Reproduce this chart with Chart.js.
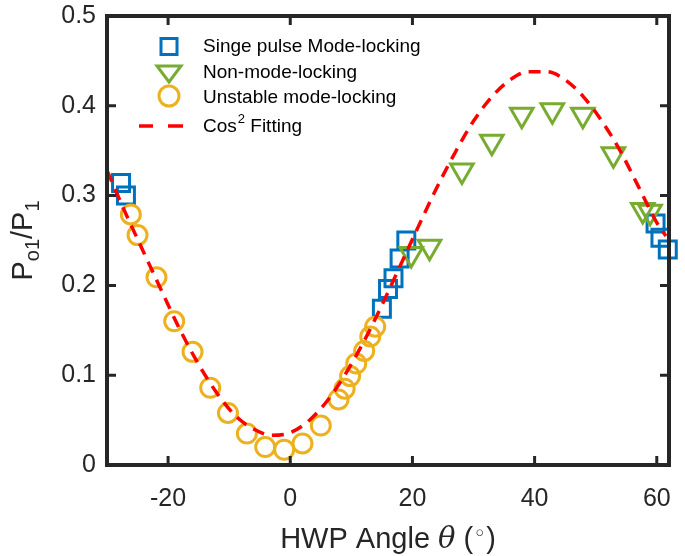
<!DOCTYPE html>
<html>
<head>
<meta charset="utf-8">
<script src="https://cdn.jsdelivr.net/npm/chart.js@4.4.1/dist/chart.umd.min.js"></script>
<style>
  html, body { margin: 0; padding: 0; background: #fff; }
  #wrap { width: 685px; height: 556px; }
</style>
</head>
<body>
<div id="wrap"><canvas id="chart" width="685" height="556"></canvas></div>
<script>
// valores
const fitAngle = [-30, -27, -24, -21, -18, -15, -12, -9, -6, -3, 0, 3, 6, 9, 12, 15, 18, 21, 24, 27, 30, 33, 36, 39, 42, 45, 48, 51, 54, 57, 60, 61.5];
const fitValue = [0.328, 0.281, 0.237, 0.193, 0.150, 0.112, 0.080, 0.055, 0.040, 0.033, 0.036, 0.049, 0.071, 0.101, 0.137, 0.178, 0.222, 0.266, 0.309, 0.348, 0.383, 0.410, 0.429, 0.438, 0.438, 0.429, 0.410, 0.383, 0.350, 0.310, 0.270, 0.255];

const singleAngle = [-27.7, -26.9, 15.0, 16.0, 16.9, 17.9, 19.0, 59.8, 60.6, 61.8];
const singleValue = [0.314, 0.300, 0.174, 0.196, 0.208, 0.230, 0.250, 0.269, 0.253, 0.240];

const nonAngle = [19.8, 22.8, 28.1, 33.0, 37.9, 42.9, 47.9, 52.9, 57.7, 58.9];
const nonValue = [0.235, 0.243, 0.328, 0.360, 0.390, 0.395, 0.390, 0.346, 0.284, 0.282];

const unstableAngle = [-26.1, -25.0, -21.9, -19.0, -16.0, -13.1, -10.2, -7.1, -4.1, -1.0, 2.0, 5.0, 7.9, 8.9, 9.8, 10.8, 12.1, 13.1, 13.9];
const unstableValue = [0.279, 0.256, 0.209, 0.160, 0.126, 0.086, 0.058, 0.035, 0.020, 0.017, 0.024, 0.044, 0.073, 0.085, 0.099, 0.113, 0.127, 0.143, 0.154];

const xTicks = [-20, 0, 20, 40, 60];
const yTicks = [0, 0.1, 0.2, 0.3, 0.4, 0.5];

const legendLabels = ['Singe pulse Mode-locking', 'Non-mode-locking', 'Unstable mode-locking', 'Cos', '2', ' Fitting'];

const AZUL = '#0072BD';
const VERDE = '#77AC30';
const LARANJA = '#EDB120';
const VERMELHO = '#FF0000';
const EIXO = '#262626';
const FONTE = '"Liberation Sans", Arial, Helvetica, sans-serif';

const pares = (xs, ys) => xs.map((x, i) => ({ x: x, y: ys[i] }));

// caixa dos eixos, ticks para dentro, títulos e legenda
const moldura = {
    id: 'moldura',
    afterDatasetsDraw(chart) {
        const { ctx, chartArea: a, scales } = chart;
        const tl = 9;
        ctx.save();
        ctx.strokeStyle = EIXO;
        ctx.lineWidth = 4;
        ctx.lineCap = 'square';
        ctx.strokeRect(a.left, a.top, a.right - a.left, a.bottom - a.top);
        ctx.lineWidth = 3;
        ctx.lineCap = 'butt';
        ctx.beginPath();
        xTicks.forEach(v => {
            const px = scales.x.getPixelForValue(v);
            ctx.moveTo(px, a.bottom); ctx.lineTo(px, a.bottom - tl);
            ctx.moveTo(px, a.top); ctx.lineTo(px, a.top + tl);
        });
        yTicks.forEach(v => {
            const py = scales.y.getPixelForValue(v);
            ctx.moveTo(a.left, py); ctx.lineTo(a.left + tl, py);
            ctx.moveTo(a.right, py); ctx.lineTo(a.right - tl, py);
        });
        ctx.stroke();

        // legenda
        const lx = 169, tx = 203;
        const linhas = [47, 73, 98, 126];
        ctx.lineWidth = 3;
        ctx.strokeStyle = AZUL;
        ctx.strokeRect(lx - 8, linhas[0] - 8.5, 16, 16);
        ctx.strokeStyle = VERDE;
        ctx.beginPath();
        ctx.moveTo(lx - 12, linhas[1] - 7);
        ctx.lineTo(lx + 12, linhas[1] - 7);
        ctx.lineTo(lx, linhas[1] + 9);
        ctx.closePath();
        ctx.stroke();
        ctx.strokeStyle = LARANJA;
        ctx.beginPath();
        ctx.arc(lx, linhas[2] - 2, 10, 0, Math.PI * 2);
        ctx.stroke();
        ctx.strokeStyle = VERMELHO;
        ctx.lineWidth = 3.5;
        ctx.beginPath();
        ctx.moveTo(139, linhas[3]); ctx.lineTo(153, linhas[3]);
        ctx.moveTo(168, linhas[3]); ctx.lineTo(183, linhas[3]);
        ctx.stroke();

        ctx.fillStyle = '#000';
        ctx.textBaseline = 'middle';
        ctx.textAlign = 'left';
        ctx.font = '19px ' + FONTE;
        ctx.fillText(legendLabels[0], tx, linhas[0]);
        ctx.fillText(legendLabels[1], tx, linhas[1]);
        ctx.fillText(legendLabels[2], tx, linhas[2]);
        let cx = tx;
        ctx.fillText(legendLabels[3], cx, linhas[3] + 1);
        cx += ctx.measureText(legendLabels[3]).width + 1;
        ctx.font = '13px ' + FONTE;
        ctx.fillText(legendLabels[4], cx, linhas[3] - 7);
        cx += ctx.measureText(legendLabels[4]).width;
        ctx.font = '19px ' + FONTE;
        ctx.fillText(legendLabels[5], cx, linhas[3] + 1);

        // título do eixo x
        ctx.fillStyle = EIXO;
        ctx.textBaseline = 'alphabetic';
        const partesX = [
            ['HWP Angle ', '29px ' + FONTE, 0],
            ['\u03B8', 'italic 29px "DejaVu Serif", serif', 0],
            [' (', '29px ' + FONTE, 0],
            ['\u25E6', '22px "DejaVu Sans", sans-serif', -7],
            [')', '29px ' + FONTE, 0]
        ];
        let largura = 0;
        partesX.forEach(p => { ctx.font = p[1]; largura += ctx.measureText(p[0]).width; });
        let px = (a.left + a.right) / 2 - largura / 2;
        partesX.forEach(p => {
            ctx.font = p[1];
            ctx.fillText(p[0], px, 548 + p[2]);
            px += ctx.measureText(p[0]).width;
        });

        // título do eixo y
        const partesY = [
            ['P', '29px ' + FONTE, 0],
            ['o1', '20px ' + FONTE, 7],
            ['/P', '29px ' + FONTE, 0],
            ['1', '20px ' + FONTE, 7]
        ];
        largura = 0;
        partesY.forEach(p => { ctx.font = p[1]; largura += ctx.measureText(p[0]).width; });
        ctx.translate(32, (a.top + a.bottom) / 2);
        ctx.rotate(-Math.PI / 2);
        px = -largura / 2;
        partesY.forEach(p => {
            ctx.font = p[1];
            ctx.fillText(p[0], px, p[2]);
            px += ctx.measureText(p[0]).width;
        });
        ctx.restore();
    }
};

const ctx = document.getElementById('chart').getContext('2d');
const grafico = new Chart(ctx, {
    type: 'scatter',
    data: {
        datasets: [
            {
                type: 'line',
                label: 'Cos2 Fitting',
                data: pares(fitAngle, fitValue),
                borderColor: VERMELHO,
                borderWidth: 3.5,
                borderDash: [12, 8],
                pointRadius: 0,
                fill: false,
                tension: 0.4,
                cubicInterpolationMode: 'monotone',
                order: 0
            },
            {
                label: 'Singe pulse Mode-locking',
                data: pares(singleAngle, singleValue),
                pointStyle: 'rect',
                pointRadius: 12,
                borderColor: AZUL,
                backgroundColor: 'rgba(0,0,0,0)',
                borderWidth: 3,
                clip: false,
                order: 3
            },
            {
                label: 'Non-mode-locking',
                data: pares(nonAngle, nonValue),
                pointStyle: 'triangle',
                rotation: 180,
                pointRadius: 13,
                borderColor: VERDE,
                backgroundColor: 'rgba(0,0,0,0)',
                borderWidth: 3,
                clip: false,
                order: 2
            },
            {
                label: 'Unstable mode-locking',
                data: pares(unstableAngle, unstableValue),
                pointStyle: 'circle',
                pointRadius: 9.5,
                borderColor: LARANJA,
                backgroundColor: 'rgba(0,0,0,0)',
                borderWidth: 3,
                clip: false,
                order: 1
            }
        ]
    },
    options: {
        responsive: false,
        animation: false,
        events: [],
        layout: { padding: { top: 15, right: 9, left: 0, bottom: 0 } },
        plugins: {
            legend: { display: false },
            tooltip: { enabled: false }
        },
        scales: {
            x: {
                type: 'linear',
                min: -30,
                max: 62,
                grid: { display: false, drawTicks: false },
                border: { display: false },
                afterBuildTicks: (s) => { s.ticks = xTicks.map(v => ({ value: v })); },
                afterFit: (s) => {
                    s.height = 91;
                    s.paddingLeft = 0;
                    s.paddingRight = 0;
                },
                ticks: {
                    color: EIXO,
                    padding: 19,
                    maxRotation: 0,
                    font: { family: FONTE, size: 25 },
                    callback: (v) => String(v)
                }
            },
            y: {
                type: 'linear',
                min: 0,
                max: 0.5,
                grid: { display: false, drawTicks: false },
                border: { display: false },
                afterBuildTicks: (s) => { s.ticks = yTicks.map(v => ({ value: v })); },
                afterFit: (s) => {
                    s.width = 107;
                    s.paddingTop = 0;
                    s.paddingBottom = 0;
                },
                ticks: {
                    color: EIXO,
                    padding: 11,
                    font: { family: FONTE, size: 25 },
                    callback: (v) => (v === 0 ? '0' : v.toFixed(1))
                }
            }
        }
    },
    plugins: [moldura]
});
</script>
</body>
</html>
